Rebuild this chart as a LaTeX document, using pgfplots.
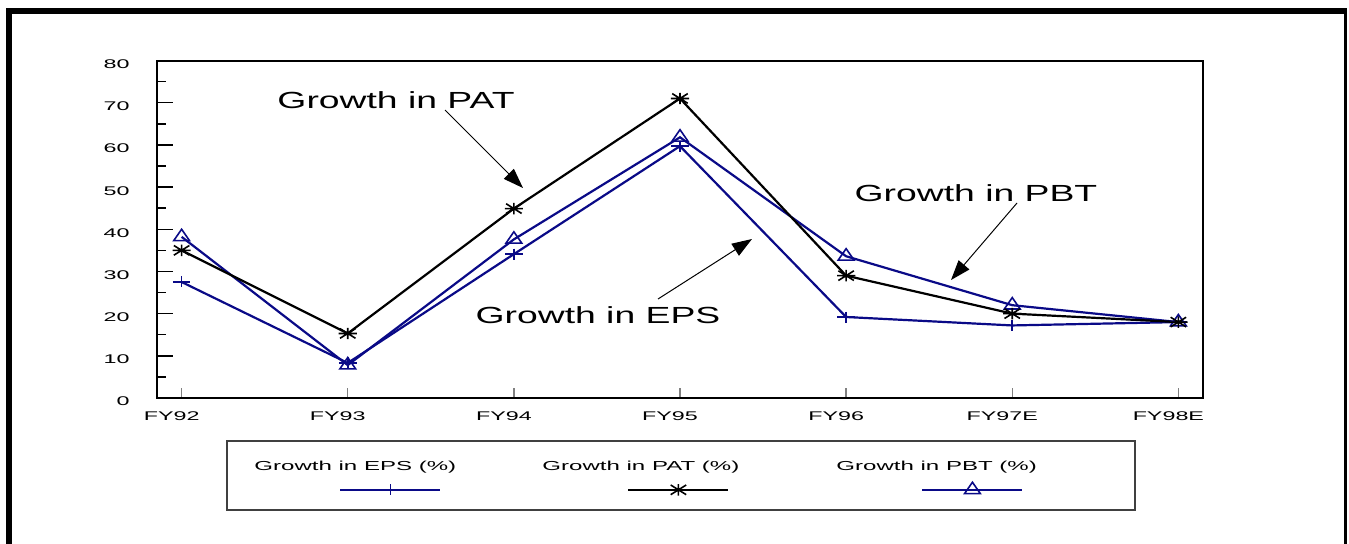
\documentclass[border=0pt]{standalone}
\usepackage{fontspec}
\setmainfont{Liberation Sans}
\newfontfamily\widefont{Liberation Sans}[FakeStretch=1.6]
\newfontfamily\smallwide{Liberation Sans}[FakeStretch=1.85]
\usepackage{pgfplots}
\pgfplotsset{compat=1.18}
\usetikzlibrary{arrows.meta}

\definecolor{navyline}{RGB}{10,10,135}

\newcommand{\ticktext}{\smallwide\fontsize{6.3}{7}\selectfont}
\newcommand{\legtext}{\smallwide\fontsize{6.5}{7.5}\selectfont}
\newcommand{\notetext}{\widefont\fontsize{11.66}{13}\selectfont}

% eight-armed star used for the PAT series
\pgfdeclareplotmark{patstar}{%
  \pgfpathmoveto{\pgfqpoint{-\pgfplotmarksize}{0pt}}%
  \pgfpathlineto{\pgfqpoint{\pgfplotmarksize}{0pt}}%
  \pgfpathmoveto{\pgfqpoint{0pt}{-\pgfplotmarksize}}%
  \pgfpathlineto{\pgfqpoint{0pt}{\pgfplotmarksize}}%
  \pgfpathmoveto{\pgfqpoint{-0.85\pgfplotmarksize}{-0.85\pgfplotmarksize}}%
  \pgfpathlineto{\pgfqpoint{0.85\pgfplotmarksize}{0.85\pgfplotmarksize}}%
  \pgfpathmoveto{\pgfqpoint{-0.85\pgfplotmarksize}{0.85\pgfplotmarksize}}%
  \pgfpathlineto{\pgfqpoint{0.85\pgfplotmarksize}{-0.85\pgfplotmarksize}}%
  \pgfusepathqstroke
}

\pgfplotstableread{
x  eps   pat   pbt
0  27.5  35.0  38.2
1  8.3   15.3  7.8
2  34.1  44.9  37.6
3  59.7  71.0  61.8
4  19.2  29.0  33.6
5  17.2  20.0  22.0
6  18.0  18.0  18.0
}\growth

\pgfplotsset{
  epsstyle/.style={navyline, line width=1.1pt, mark=+, mark size=2.75pt,
    mark options={solid, xscale=1.6, line width=0.8pt}},
  patstyle/.style={black, line width=1.1pt, mark=patstar, mark size=2.85pt,
    mark options={solid, xscale=1.6, line width=0.8pt}},
  pbtstyle/.style={navyline, line width=1.1pt, mark=triangle, mark size=3.8pt,
    mark options={solid, xscale=1.2, line width=0.8pt}},
}

\begin{document}
\begin{tikzpicture}
\useasboundingbox (0,0) rectangle (674.5pt,271.5pt);
% page frame
\draw[line width=2.85pt] (4.4pt,-3pt) -- (4.4pt,265.9pt) -- (673.5pt,265.9pt);
\draw[line width=1.6pt] (672.8pt,265.9pt) -- (672.8pt,-3pt);

\begin{axis}[
  at={(78.35pt,72.5pt)}, anchor=south west,
  scale only axis, width=523.3pt, height=168.75pt,
  xmin=-0.15, xmax=6.15, ymin=0, ymax=80,
  xtick={0,...,6},
  xticklabels={FY92,FY93,FY94,FY95,FY96,FY97E,FY98E},
  ytick={0,10,...,80}, minor ytick={5,15,...,75},
  tick align=inside, xtick pos=left, ytick pos=left,
  axis line style={line width=1pt},
  major tick length=8.3pt, minor tick length=4.5pt,
  ytick style={line width=0.75pt, black},
  xtick style={line width=0.75pt, gray, /pgfplots/major tick length=5pt},
  /pgf/number format/assume math mode=true,
  ticklabel style={font=\ticktext},
  yticklabel style={anchor=east, inner sep=0pt, xshift=-13.35pt, yshift=-1.8pt},
  xticklabel style={anchor=north, inner sep=0pt, yshift=-6.85pt, xshift=-5pt},
  legend columns=3,
  legend style={at={(0.093,-0.2045)}, anchor=west, draw=none, fill=none,
    inner sep=0pt, column sep=0pt, row sep=0pt, font=\legtext,
    nodes={inner sep=0pt}},
  legend cell align=left,
  legend image code/.code={%
    \draw[overlay, mark repeat=2, mark phase=2, #1]
      plot coordinates {(43pt,-11.4pt) (68pt,-11.4pt) (93pt,-11.4pt)};},
]
\addplot[pbtstyle, forget plot] table[x=x, y=pbt] {\growth};
\addplot[epsstyle] table[x=x, y=eps] {\growth};
\addlegendentry{\makebox[144pt][l]{Growth in EPS (\%)}}
\addplot[patstyle] table[x=x, y=pat] {\growth};
\addlegendentry{\makebox[147pt][l]{Growth in PAT (\%)}}
\addlegendimage{pbtstyle}
\addlegendentry{Growth in PBT (\%)}
\end{axis}

% legend frame
\draw[line width=0.75pt, black!75] (113.5pt,16.5pt) rectangle (567.5pt,51pt);

% callouts
\node[font=\notetext] at (198pt,221.5pt) {Growth in PAT};
\draw[line width=0.5pt, -{Triangle[length=10pt,width=7pt]}] (222.5pt,216.5pt) -- (261.5pt,177.5pt);
\node[font=\notetext] at (299pt,113.75pt) {Growth in EPS};
\draw[line width=0.5pt, -{Triangle[length=10pt,width=7pt]}] (329pt,122pt) -- (376pt,152pt);
\node[font=\notetext] at (488pt,175pt) {Growth in PBT};
\draw[line width=0.5pt, -{Triangle[length=10pt,width=7pt]}] (508.5pt,170pt) -- (475.5pt,131.5pt);
\end{tikzpicture}
\end{document}
